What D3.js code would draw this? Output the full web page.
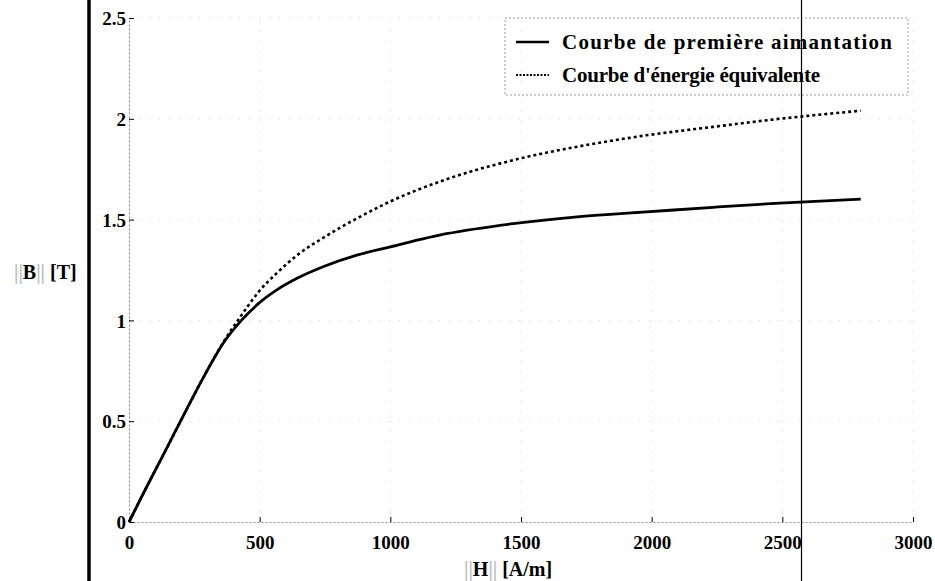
<!DOCTYPE html>
<meta charset="utf-8">
<style>
  body { margin: 0; background: #fff; }
  svg { display: block; }
  .tick text { font-family: "Liberation Serif", "DejaVu Serif", serif; font-weight: bold; font-size: 19px; fill: #000; }
  .lab { font-family: "Liberation Serif", "DejaVu Serif", serif; font-weight: bold; font-size: 20px; }
  .leg { font-family: "Liberation Serif", "DejaVu Serif", serif; font-weight: bold; font-size: 21px; }
</style>
<script src="https://d3js.org/d3.v7.min.js"></script>
<div id="chart"></div>
<script>
// H field values (A/m), shared by both curves
var hValues = [0, 60, 140, 215, 290, 365, 430, 495, 570, 645, 750, 875, 1000, 1215, 1470, 1725, 1980, 2235, 2490, 2800];
// first magnetization curve B (T)
var bFirst = [0, 0.155, 0.355, 0.545, 0.73, 0.895, 1.0, 1.083, 1.155, 1.21, 1.27, 1.325, 1.365, 1.43, 1.48, 1.515, 1.538, 1.561, 1.582, 1.602];
// equivalent energy curve B (T)
var bEnergy = [0, 0.155, 0.355, 0.545, 0.73, 0.9, 1.025, 1.14, 1.24, 1.325, 1.415, 1.508, 1.59, 1.7, 1.795, 1.864, 1.918, 1.96, 2.0, 2.04];

var xTicks = [0, 500, 1000, 1500, 2000, 2500, 3000];
var yTicks = [0, 0.5, 1, 1.5, 2, 2.5];
var legendLabels = ["Courbe de première aimantation", "Courbe d'énergie équivalente"];

var W = 935, H = 581;
var margin = {top: 18, right: 22, bottom: 59, left: 129};

var svg = d3.select("#chart").append("svg")
    .attr("width", W)
    .attr("height", H);

var x = d3.scaleLinear().domain([0, 3000]).range([margin.left, W - margin.right]);
var y = d3.scaleLinear().domain([0, 2.5]).range([H - margin.bottom, margin.top]);

// faint dotted grid
svg.append("g").selectAll("line")
  .data(yTicks.slice(1))
  .enter().append("line")
    .attr("x1", x(0)).attr("x2", x(3000))
    .attr("y1", function(d) { return y(d); }).attr("y2", function(d) { return y(d); })
    .style("stroke", "#d8d8d8")
    .style("stroke-dasharray", "1,9");
svg.append("g").selectAll("line")
  .data(xTicks.slice(1))
  .enter().append("line")
    .attr("x1", function(d) { return x(d); }).attr("x2", function(d) { return x(d); })
    .attr("y1", y(0)).attr("y2", y(2.5))
    .style("stroke", "#d8d8d8")
    .style("stroke-dasharray", "1,9");

// axes
var gx = svg.append("g")
    .attr("transform", "translate(0," + y(0) + ")")
    .call(d3.axisBottom(x).tickValues(xTicks).tickSizeInner(-5).tickSizeOuter(0).tickPadding(14).tickFormat(d3.format("d")));
var gy = svg.append("g")
    .attr("transform", "translate(" + x(0) + ",0)")
    .call(d3.axisLeft(y).tickValues(yTicks).tickSizeInner(-5).tickSizeOuter(0).tickPadding(3).tickFormat(function(d) { return d; }));
[gx, gy].forEach(function(g) {
  g.select(".domain").style("stroke", "#888").style("stroke-dasharray", "2,2");
  g.selectAll(".tick line").style("stroke", "#000");
});
gy.selectAll(".tick text").attr("dy", "0.35em");

// curves
var line = d3.line()
    .x(function(d) { return x(d[0]); })
    .y(function(d) { return y(d[1]); })
    .curve(d3.curveMonotoneX);

svg.append("path")
    .datum(d3.zip(hValues, bEnergy))
    .attr("d", line)
    .style("fill", "none")
    .style("stroke", "#000")
    .style("stroke-width", 2.6)
    .style("stroke-dasharray", "3,3");

svg.append("path")
    .datum(d3.zip(hValues, bFirst))
    .attr("d", line)
    .style("fill", "none")
    .style("stroke", "#000")
    .style("stroke-width", 2.8);

// axis labels
var yl = svg.append("text").attr("class", "lab").attr("x", 14).attr("y", 279);
yl.append("tspan").text("||").style("fill", "#bbb");
yl.append("tspan").text("B").style("fill", "#000");
yl.append("tspan").text("|| ").style("fill", "#bbb");
yl.append("tspan").text("[T]").style("fill", "#000");

var xl = svg.append("text").attr("class", "lab").attr("x", 464).attr("y", 576);
xl.append("tspan").text("||").style("fill", "#bbb");
xl.append("tspan").text("H").style("fill", "#000");
xl.append("tspan").text("|| ").style("fill", "#bbb");
xl.append("tspan").text("[A/m]").style("fill", "#000");

// legend
var leg = svg.append("g").attr("transform", "translate(505,18)");
leg.append("rect")
    .attr("width", 403).attr("height", 77)
    .style("fill", "none")
    .style("stroke", "#999")
    .style("stroke-dasharray", "2,2");
var items = leg.selectAll("g.item")
  .data(legendLabels)
  .enter().append("g")
    .attr("class", "item")
    .attr("transform", function(d, i) { return "translate(0," + (24 + i * 33) + ")"; });
items.append("line")
    .attr("x1", 11).attr("x2", 44)
    .style("stroke", "#000")
    .style("stroke-width", function(d, i) { return i ? 2.2 : 2.6; })
    .style("stroke-dasharray", function(d, i) { return i ? "2,1.5" : null; });
items.append("text")
    .attr("class", "leg")
    .attr("x", 57).attr("y", 7)
    .attr("textLength", function(d, i) { return i ? 258 : 330; })
    .text(function(d) { return d; });

// scan artefacts: page edge and fold line
svg.append("line").attr("x1", 89).attr("x2", 89).attr("y1", 0).attr("y2", H)
    .style("stroke", "#000").style("stroke-width", 3.5);
svg.append("line").attr("x1", 801.5).attr("x2", 801.5).attr("y1", 0).attr("y2", H)
    .style("stroke", "#000").style("stroke-width", 1.2);
</script>
